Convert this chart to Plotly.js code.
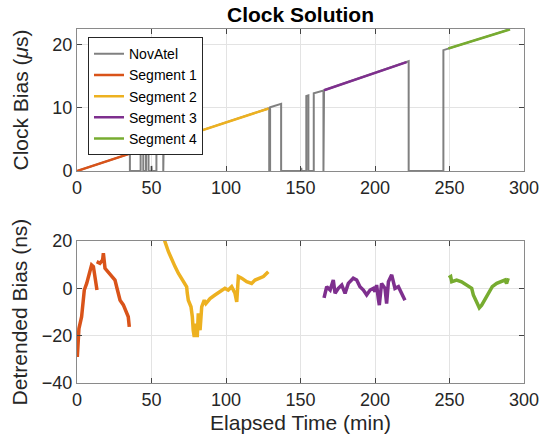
<!DOCTYPE html>
<html>
<head>
<meta charset="utf-8">
<script src="https://cdn.plot.ly/plotly-3.0.1.min.js"></script>
<style>html,body{margin:0;padding:0;background:#fff;}#chart{width:547px;height:446px;}</style>
</head>
<body>
<div id="chart"></div>
<script>
// ---- Top panel: NovAtel clock bias (microseconds) ----
var novTime = [0, 35.5, 35.5, 42.7, 42.7, 44.5, 44.5, 46.3, 46.3, 48, 48, 50, 50, 50.2, 53.3, 53.3, 57.9, 57.9, 58.2, 58.2,
  129, 129, 129.6, 129.6, 137, 137, 150.5, 150.5, 150.7, 153.9, 153.9, 155.3, 155.3, 158.9, 158.9, 165.4, 165.4, 165.8, 165.8,
  222.6, 222.6, 245.9, 245.9, 290.6];
var novBias = [0, 2.75, 0, 0, 3.3, 3.45, 0, 0, 3.6, 3.7, 0, 0, 0.8, 0, 0, 4.1, 4.45, 0, 0, 4.45,
  9.95, 0, 0, 10.1, 10.65, 0, 0, 0.5, 0, 0, 11.9, 12.0, 0, 0, 12.3, 12.75, 0, 0, 12.8,
  17.4, 0, 0, 19.15, 22.45];

var seg1Time = [0, 35.5],      seg1Bias = [0, 2.75];
var seg2Time = [58.2, 128.6],  seg2Bias = [4.45, 9.9];
var seg3Time = [165.8, 221.2], seg3Bias = [12.8, 17.25];
var seg4Time = [249.2, 290.6], seg4Bias = [19.4, 22.45];

// ---- Bottom panel: detrended bias (ns) ----
var det1Time = [0.2, 1.3, 3.1, 4.9, 6.5, 8.7, 9.8, 11, 12.5, 13.4, null, 13.2, 15.4, 17.2, 17.7, 18.8, 21, 23.3, 25.5, 26.6, 28.9, 31.1, 33.4, 34.4, 35.1];
var det1Bias = [-29, -17, -12, -0.7, 2.1, 7.8, 9.9, 9.2, 2.1, -0.7, null, 11.3, 10.6, 12, 14.9, 8.5, 7, 5, 3.5, 0.7, -5, -7, -10, -12, -16.3];

var det2Time = [58.2, 59, 61.3, 63.5, 65.8, 68, 71.3, 73.6, 74, 74.7, 76.5, 77.4, 78, 78.7, 79.9, 80.7, 81.4, 82.6, 83.7, 85.4, 86.5,
  89.3, 92.6, 96, 99.3, 101.5, 103.8, 106, 107.2, 108.3, 110.5, 113.9, 117.2, 119.5, 122.8, 125.1, 128.4];
var det2Bias = [22, 19.8, 15.6, 12, 9.2, 6.4, 2.8, 0.7, -2, -5, -7.8, -12, -17.7, -20.6, -14.9, -20.6, -10.6, -17.7, -7.8, -5, -6.4,
  -4.3, -2.8, -1.4, 0, -0.7, 0.7, -2, -5.7, 5, 4.3, 2.8, 2.1, 3.5, 4.3, 5, 7];

var det3Time = [165.8, 166.4, 167.6, 169.9, 172, 173.2, 175.4, 177.7, 179.9, 182.1, 185.4, 187.7, 189.9, 192.2, 194.4, 196.7,
  198.9, 200, 201.1, 202.2, 202.9, 204.4, 206.7, 207.8, 209, 211.2, 213.4, 215.7, 217.9, 220.1];
var det3Bias = [-4, -2.8, 0.7, -0.7, 3.5, -2.1, 0, 1.4, -2.1, 2.1, 4.3, 3.5, 0.7, -0.7, -2.8, -0.7,
  0, -1.4, 1.4, -4.3, -7.1, 2.1, 0, -6.4, 2.8, 5.7, 0, 0.7, -2.1, -5];

var det4Time = [249.5, 250.8, 251.5, 254.8, 258.1, 261.5, 264.9, 266, 267.1, 268.3, 270, 271.6, 274.2, 276.4, 278.7, 281.7, 285.5, 287.2, 288.3, 289.4];
var det4Bias = [4.5, 5, 2.8, 3.5, 2.8, 1.4, 0, -2.8, -4.3, -6.4, -8.2, -7.1, -4.3, -1.4, 0.7, 2.1, 2.8, 3.5, 2.1, 4.3];

var seriesNames = ['NovAtel', 'Segment 1', 'Segment 2', 'Segment 3', 'Segment 4'];
var xTicks = [0, 50, 100, 150, 200, 250, 300];
var topYTicks = [0, 10, 20];
var botYTicks = [-40, -20, 0, 20];

var cGray = '#808080', c1 = '#D95319', c2 = '#EDB120', c3 = '#7E2F8E', c4 = '#77AC30';
var FONT = 'Liberation Sans, Arial, Helvetica, sans-serif';

var traces = [
  {x: novTime, y: novBias, name: seriesNames[0], mode: 'lines', line: {color: cGray, width: 2}, xaxis: 'x', yaxis: 'y'},
  {x: seg1Time, y: seg1Bias, name: seriesNames[1], mode: 'lines', line: {color: c1, width: 2.5}, xaxis: 'x', yaxis: 'y'},
  {x: seg2Time, y: seg2Bias, name: seriesNames[2], mode: 'lines', line: {color: c2, width: 2.5}, xaxis: 'x', yaxis: 'y'},
  {x: seg3Time, y: seg3Bias, name: seriesNames[3], mode: 'lines', line: {color: c3, width: 2.5}, xaxis: 'x', yaxis: 'y'},
  {x: seg4Time, y: seg4Bias, name: seriesNames[4], mode: 'lines', line: {color: c4, width: 2.5}, xaxis: 'x', yaxis: 'y'},
  {x: det1Time, y: det1Bias, showlegend: false, mode: 'lines', line: {color: c1, width: 3.5}, xaxis: 'x2', yaxis: 'y2'},
  {x: det2Time, y: det2Bias, showlegend: false, mode: 'lines', line: {color: c2, width: 3.5}, xaxis: 'x2', yaxis: 'y2'},
  {x: det3Time, y: det3Bias, showlegend: false, mode: 'lines', line: {color: c3, width: 3.5}, xaxis: 'x2', yaxis: 'y2'},
  {x: det4Time, y: det4Bias, showlegend: false, mode: 'lines', line: {color: c4, width: 3.5}, xaxis: 'x2', yaxis: 'y2'}
];

function xAxis(anchor, title) {
  var a = {
    anchor: anchor, domain: [0, 1], range: [0, 300], tickvals: xTicks,
    showgrid: true, gridcolor: '#e3e3e3', zeroline: false,
    showline: true, linecolor: '#8a8a8a', linewidth: 1, mirror: 'ticks',
    ticks: 'inside', ticklen: 5, tickcolor: '#444', tickfont: {size: 18, color: '#262626', family: FONT}
  };
  if (title) a.title = {text: title, font: {size: 21, color: '#262626', family: FONT}, standoff: 6};
  return a;
}
function yAxis(anchor, dom, range, vals, title, standoff) {
  return {
    anchor: anchor, domain: dom, range: range, tickvals: vals,
    showgrid: true, gridcolor: '#e3e3e3', zeroline: false,
    showline: true, linecolor: '#8a8a8a', linewidth: 1, mirror: 'ticks',
    ticks: 'inside', ticklen: 5, tickcolor: '#444', tickfont: {size: 18, color: '#262626', family: FONT},
    title: {text: title, font: {size: 21, color: '#262626', family: FONT}, standoff: standoff}
  };
}

var layout = {
  width: 547, height: 446,
  margin: {l: 77, r: 23, t: 29, b: 63},
  paper_bgcolor: '#fff', plot_bgcolor: '#fff',
  font: {family: FONT, color: '#262626'},
  title: {text: '<b>Clock Solution</b>', font: {size: 21, color: '#000', family: FONT}, x: 0.5, xref: 'paper', y: 0.968, yanchor: 'middle'},
  xaxis: xAxis('y', null),
  yaxis: yAxis('x', [0.599, 1], [0, 22.5], topYTicks, 'Clock Bias (<i>μ</i>s)', 18),
  xaxis2: xAxis('y2', 'Elapsed Time (min)'),
  yaxis2: yAxis('x2', [0, 0.401], [-40, 20], botYTicks, 'Detrended Bias (ns)', 8),
  showlegend: true,
  legend: {
    x: 0.0246, y: 0.977, xanchor: 'left', yanchor: 'top',
    bgcolor: '#fff', bordercolor: '#262626', borderwidth: 1,
    font: {size: 14, color: '#000', family: FONT}, tracegroupgap: 0
  }
};

Plotly.newPlot('chart', traces, layout, {displayModeBar: false, staticPlot: true});
</script>
</body>
</html>
